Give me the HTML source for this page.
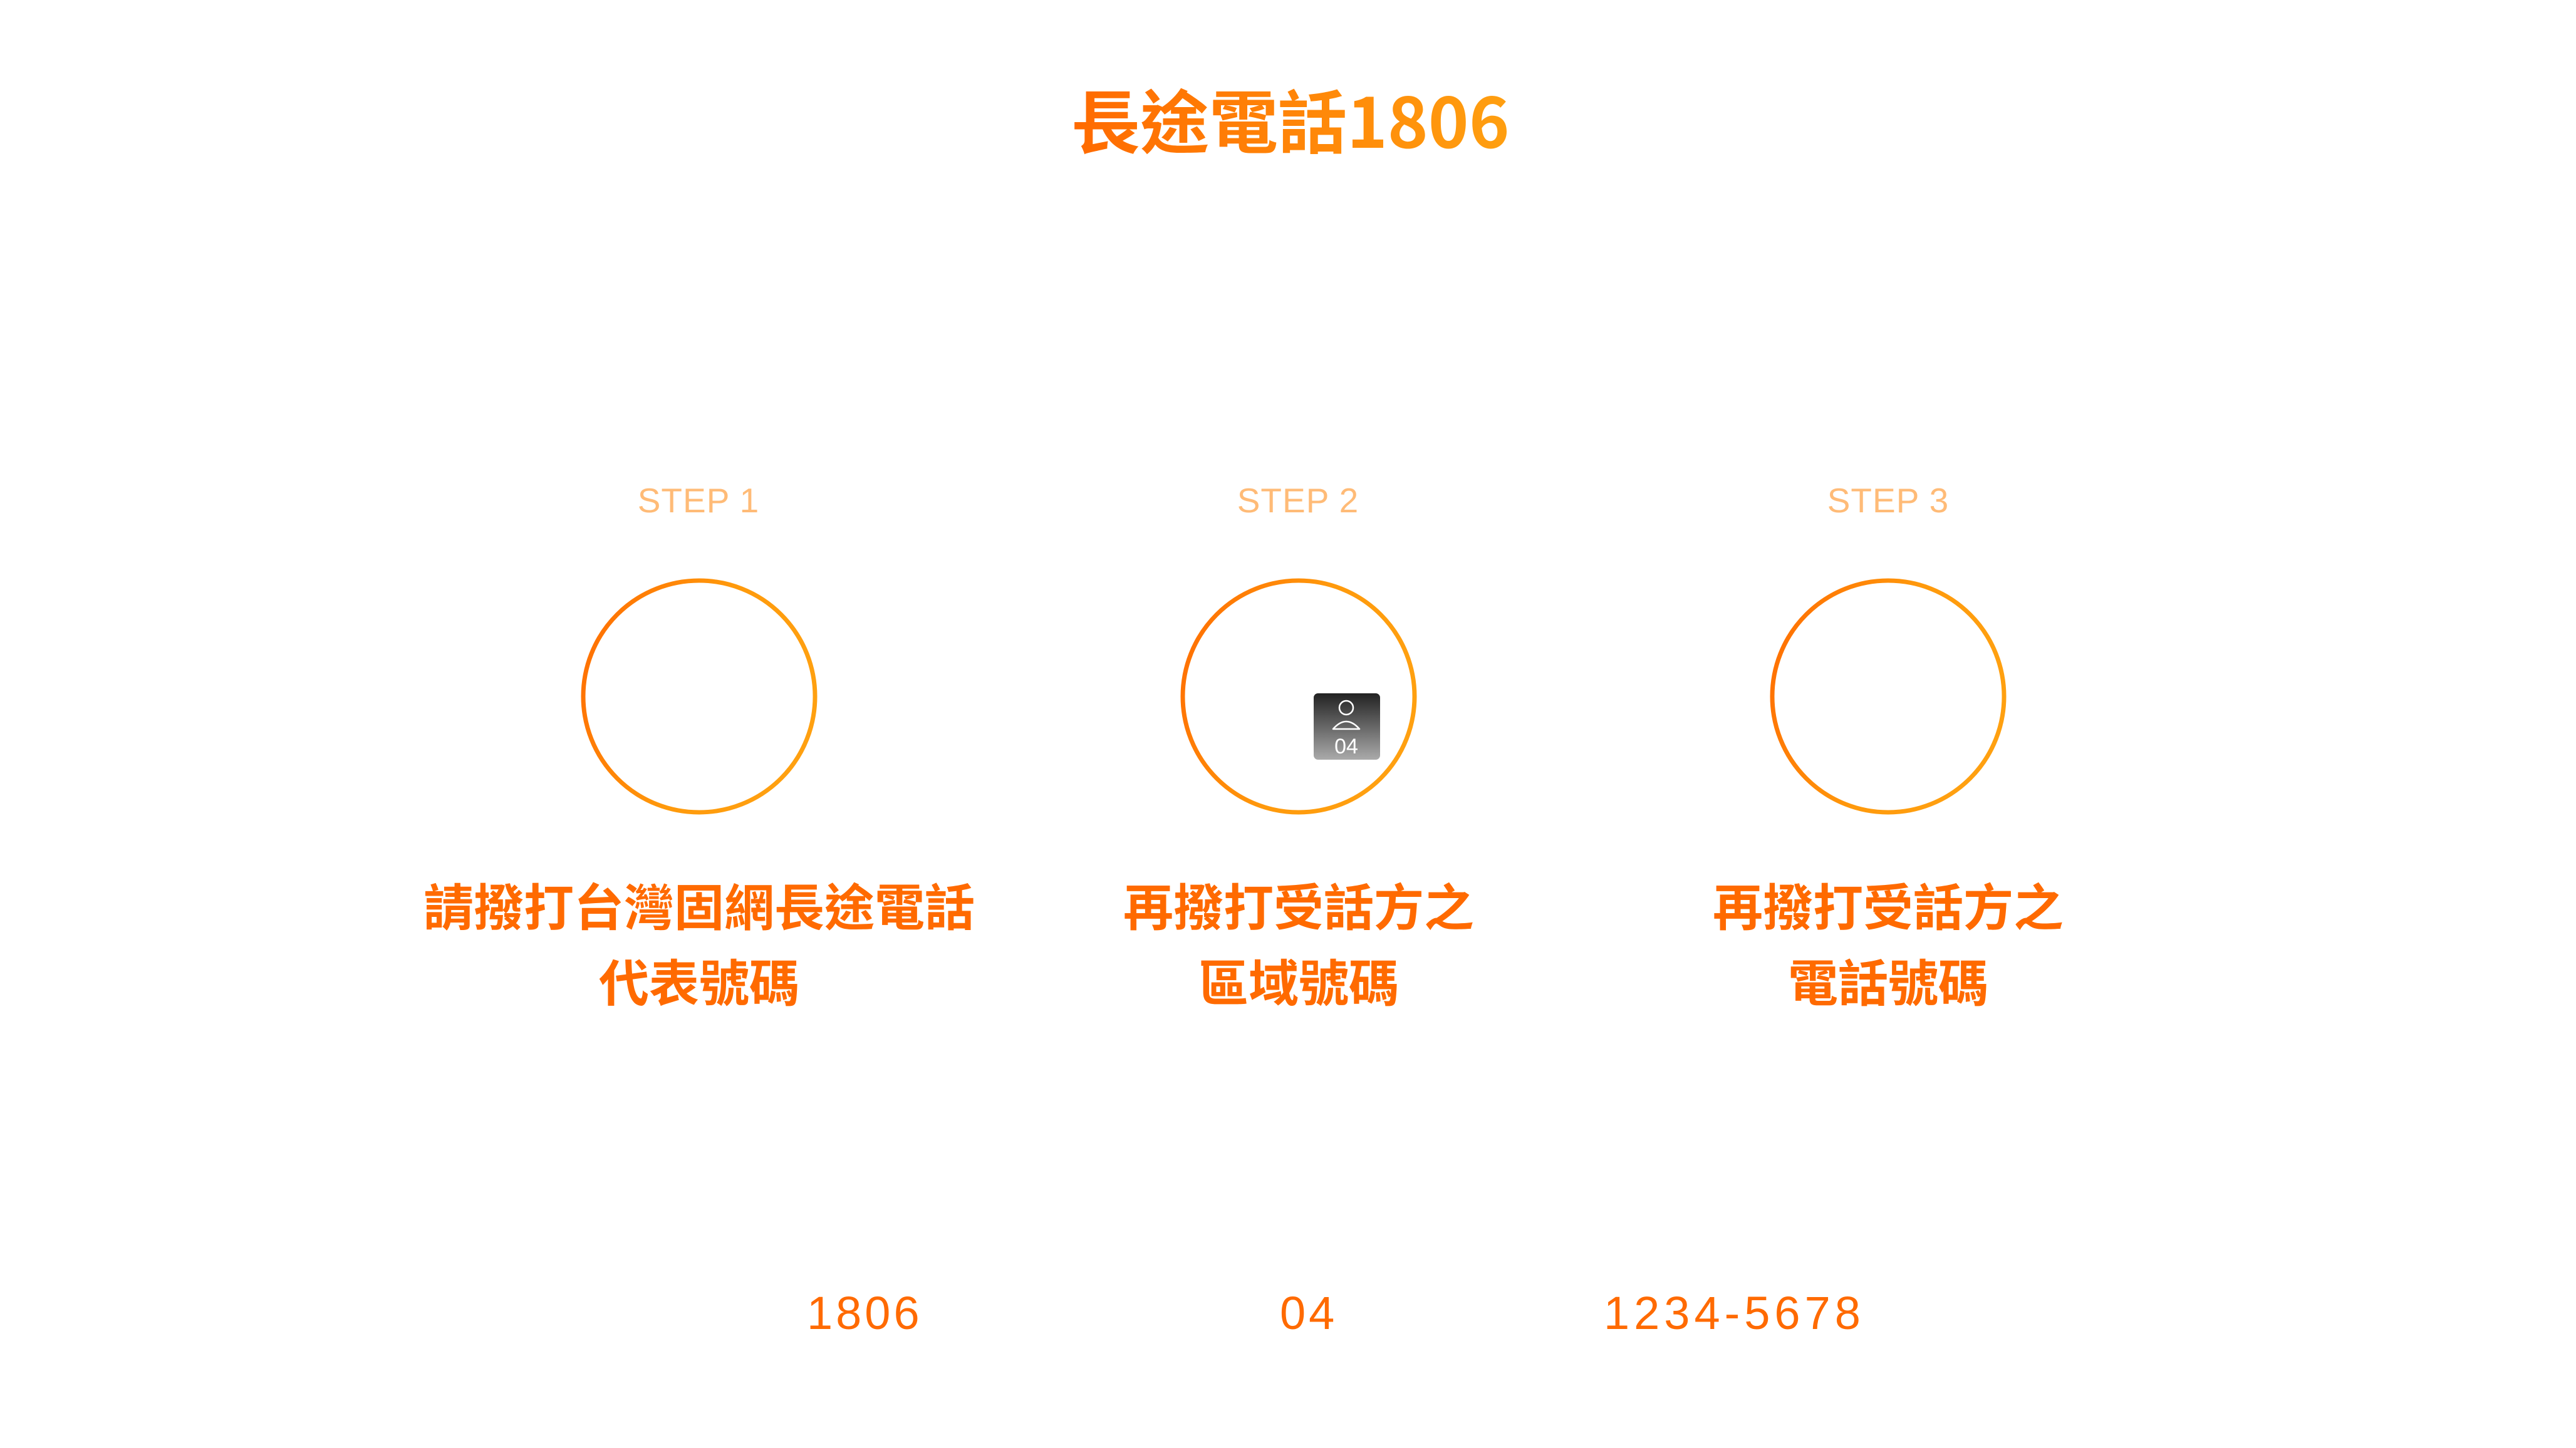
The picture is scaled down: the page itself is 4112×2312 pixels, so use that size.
<!DOCTYPE html>
<html><head><meta charset="utf-8"><style>
body{margin:0;width:4112px;height:2312px;background:#fff;position:relative;overflow:hidden;font-family:"Liberation Sans","Noto Sans CJK TC",sans-serif}
.a{position:absolute;white-space:nowrap}
.title{left:1710px;top:118px;font-size:110px;font-weight:bold;background:linear-gradient(90deg,#ff6a00,#ffa010);-webkit-background-clip:text;background-clip:text;color:transparent;line-height:140px;font-family:"Noto Sans CJK TC",sans-serif;padding-right:10px}
.step{font-size:55px;color:#ffbb77;letter-spacing:1px;width:600px;text-align:center;top:764px;line-height:70px}
.desc{font-size:80px;font-weight:bold;color:#ff6a00;width:1200px;text-align:center;top:1384px;line-height:121px;font-family:"Noto Sans CJK TC",sans-serif}
.num{font-size:74px;color:#ff6a00;top:2052px;line-height:90px;letter-spacing:5px}
</style></head><body>
<div class="a title">長途電話1806</div>
<div class="a step" style="left:815px">STEP 1</div>
<div class="a step" style="left:1772px">STEP 2</div>
<div class="a step" style="left:2714px">STEP 3</div>
<svg class="a" style="left:0;top:0" width="4112" height="2312">
<defs><linearGradient id="g" x1="0" y1="0" x2="1" y2="0.3"><stop offset="0" stop-color="#ff6a00"/><stop offset="0.6" stop-color="#ff9a0c"/><stop offset="1" stop-color="#ffa010"/></linearGradient>
<linearGradient id="b" x1="0" y1="0" x2="0" y2="1"><stop offset="0" stop-color="#222"/><stop offset="1" stop-color="#aaa"/></linearGradient></defs>
<circle cx="1116" cy="1112" r="185" fill="none" stroke="url(#g)" stroke-width="7"/>
<circle cx="2073" cy="1112" r="185" fill="none" stroke="url(#g)" stroke-width="7"/>
<circle cx="3014" cy="1112" r="185" fill="none" stroke="url(#g)" stroke-width="7"/>
<rect x="2097" y="1107" width="106" height="106" rx="7" fill="url(#b)"/>
<circle cx="2149" cy="1130" r="11" fill="none" stroke="#fff" stroke-width="2.5"/>
<path d="M2128 1164 Q2149 1140 2170 1164 Z" fill="none" stroke="#fff" stroke-width="2.5" stroke-linejoin="round"/>
<text x="2149" y="1203" font-size="34" fill="#fff" text-anchor="middle" font-family="Liberation Sans,sans-serif">04</text>
</svg>
<div class="a desc" style="left:516px">請撥打台灣固網長途電話<br>代表號碼</div>
<div class="a desc" style="left:1473px">再撥打受話方之<br>區域號碼</div>
<div class="a desc" style="left:2414px">再撥打受話方之<br>電話號碼</div>
<div class="a num" style="left:1288px">1806</div>
<div class="a num" style="left:2043px">04</div>
<div class="a num" style="left:2560px;letter-spacing:7px">1234-5678</div>
</body></html>
